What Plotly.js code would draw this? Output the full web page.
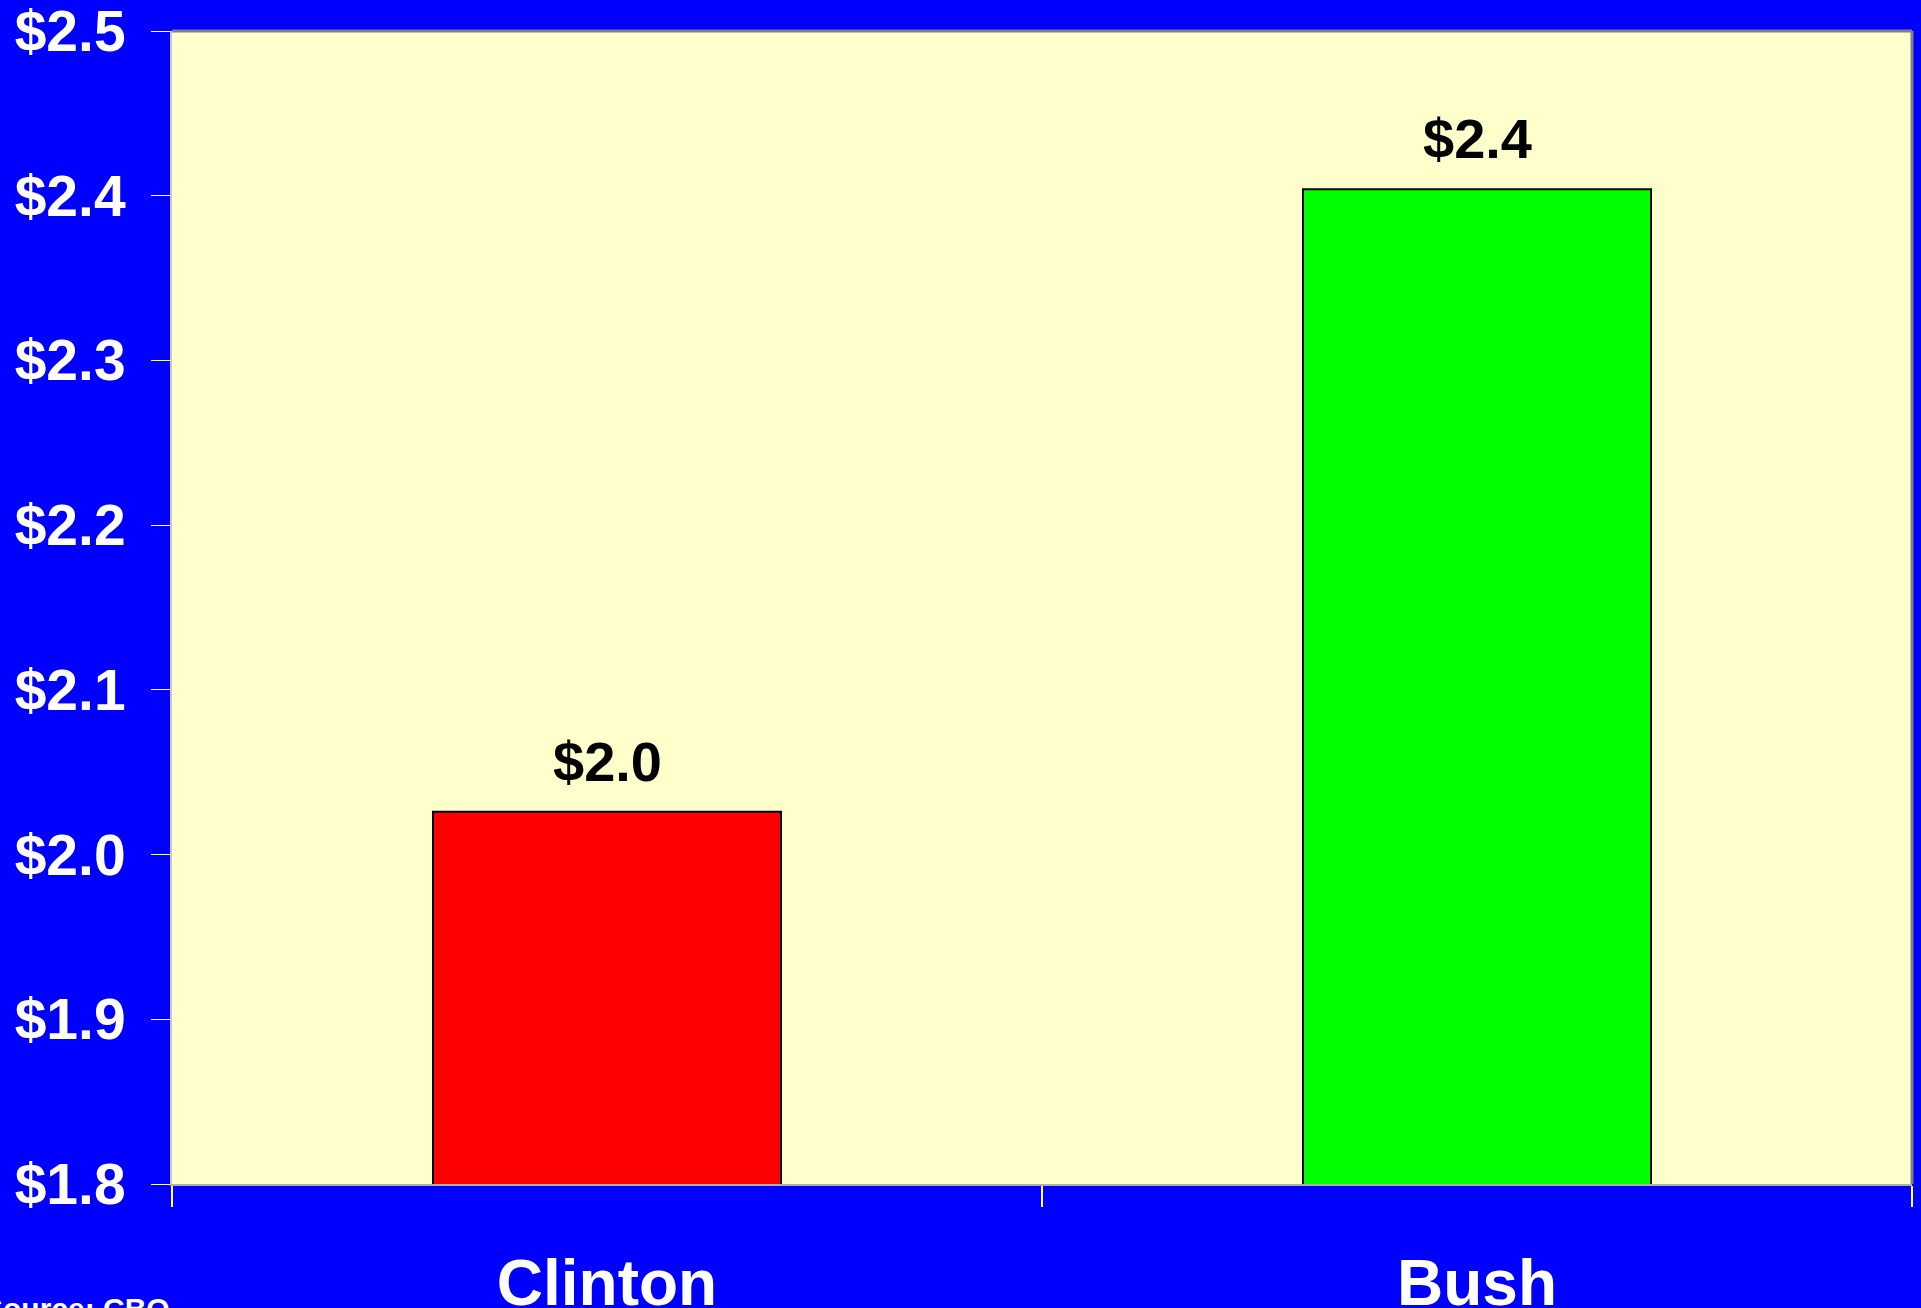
<!DOCTYPE html>
<html>
<head>
<meta charset="utf-8">
<script src="https://cdn.plot.ly/plotly-3.0.1.min.js"></script>
<style>
  html, body { margin: 0; padding: 0; background: #0000FF; }
  #chart { width: 1921px; height: 1308px; }
</style>
</head>
<body>
<div id="chart"></div>
<script>
const categories = ["Clinton", "Bush"];
const values = [2.026, 2.404];
const barColors = ["#FF0000", "#00FF00"];
const yTickValues = [1.8, 1.9, 2.0, 2.1, 2.2, 2.3, 2.4, 2.5];
const yTickLabels = ["$1.8", "$1.9", "$2.0", "$2.1", "$2.2", "$2.3", "$2.4", "$2.5"];
const sourceNote = "Source: CBO";

const FONT = "Arial, 'Liberation Sans', sans-serif";

const trace = {
  type: "bar",
  x: categories,
  y: values,
  width: 0.4,
  marker: { color: barColors, line: { color: "#000000", width: 2 } },
  hoverinfo: "skip"
};

const valueLabels = categories.map((c, i) => ({
  x: c, y: values[i], xref: "x", yref: "y",
  text: "$" + values[i].toFixed(1),
  showarrow: false, yanchor: "bottom", yshift: 17,
  font: { family: FONT, size: 56, color: "#000000", weight: "bold" }
}));

const layout = {
  width: 1921, height: 1308,
  paper_bgcolor: "#0000FF",
  plot_bgcolor: "#FFFFCC",
  margin: { l: 172, r: 9, t: 31, b: 124 },
  showlegend: false,
  bargap: 0.6,
  xaxis: {
    type: "category",
    range: [-0.5, 1.5],
    tickson: "boundaries",
    ticks: "outside", ticklen: 21, tickwidth: 2, tickcolor: "#FFFFFF",
    showline: true, linecolor: "#B0B0B0", linewidth: 2,
    showgrid: false, zeroline: false,
    ticklabelstandoff: 42,
    ticklabeloverflow: "allow",
    tickfont: { family: FONT, size: 64, color: "#FFFFFF", weight: "bold" },
    fixedrange: true
  },
  yaxis: {
    range: [1.8, 2.5],
    tickmode: "array",
    tickvals: yTickValues,
    ticktext: yTickLabels,
    ticks: "outside", ticklen: 19, tickwidth: 1, tickcolor: "#FFFFFF",
    showline: true, linecolor: "#C8C8C8", linewidth: 2,
    showgrid: false, zeroline: false,
    ticklabelstandoff: 14,
    ticklabeloverflow: "allow",
    tickfont: { family: FONT, size: 57, color: "#FFFFFF", weight: "bold" },
    fixedrange: true
  },
  shapes: [
    { type: "line", xref: "paper", yref: "paper", x0: 0, x1: 1, y0: 1, y1: 1,
      line: { color: "#808080", width: 3 } },
    { type: "line", xref: "paper", yref: "paper", x0: 1, x1: 1, y0: 0, y1: 1,
      line: { color: "#808080", width: 3 } }
  ],
  annotations: valueLabels.concat([{
    xref: "paper", yref: "paper", x: -0.11, y: -0.092,
    xanchor: "left", yanchor: "top",
    text: sourceNote, showarrow: false,
    font: { family: FONT, size: 30, color: "#FFFFFF", weight: "bold" }
  }])
};

Plotly.newPlot("chart", [trace], layout, { displayModeBar: false, staticPlot: true });
</script>
</body>
</html>
